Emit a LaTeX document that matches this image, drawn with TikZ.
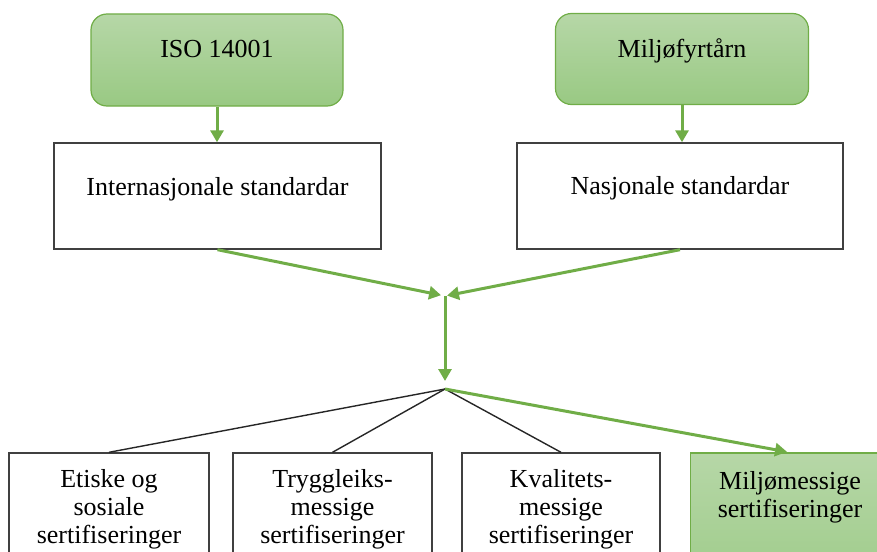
\documentclass[tikz,border=0pt]{standalone}
\usepackage{fontspec}
\setmainfont{Liberation Serif}
\usetikzlibrary{arrows.meta}
\definecolor{certgreen}{HTML}{70AD47}
\definecolor{certlight}{HTML}{B6D7A7}
\definecolor{certdark}{HTML}{99C983}
\tikzset{
	greenbox/.style={draw=certgreen, line width=1.2pt, top color=certlight, bottom color=certdark, inner sep=0pt, align=center},
	plainbox/.style={draw=black!75, line width=1.4pt, fill=white, inner sep=0pt, align=center},
	greenarrow/.style={draw=certgreen, line width=3pt, -{Triangle[length=12pt,width=13pt]}},
	thinline/.style={draw=black!85, line width=1.4pt}
}

\begin{document}
\begin{tikzpicture}[x=1pt, y=-1pt, font=\fontsize{26pt}{28pt}\selectfont]
			%%%%% START %%%%%
			
			\useasboundingbox (0, 0) rectangle (877, 551);
			\clip (0, 0) rectangle (877, 551);
			
			\node[greenbox, rounded corners=16pt, minimum width=252pt, text height=43pt, text depth=49pt] (iso) at (217, 60) {ISO 14001};
			\node[greenbox, rounded corners=16pt, minimum width=253pt, text height=44pt, text depth=47pt] (fyr) at (682, 59) {Miljøfyrtårn};
			
			\node[plainbox, minimum width=327pt, text height=52pt, text depth=54pt] (intl) at (217.5, 196) {Internasjonale standardar};
			\node[plainbox, minimum width=326pt, text height=51pt, text depth=55pt] (nasj) at (680, 196) {Nasjonale standardar};
			
			\draw[greenarrow] (iso.south) -- (iso.south |- intl.north);
			\draw[greenarrow] (fyr.south) -- (fyr.south |- nasj.north);
			
			\coordinate (hub) at (445, 296);
			\coordinate (split) at (445, 389);
			
			\draw[greenarrow, shorten >=4pt] (intl.south) -- (hub);
			\draw[greenarrow, shorten >=2pt] (nasj.south) -- (hub);
			\draw[greenarrow, shorten >=8pt] (hub) -- (split);
			
			% last line sits on the baseline, so the height covers all lines
			\node[plainbox, minimum width=200pt, text height=90pt, text depth=74pt] (etisk) at (109, 535) {Etiske og\\sosiale\\sertifiseringer};
			\node[plainbox, minimum width=199pt, text height=90pt, text depth=74pt] (tryg) at (332.5, 535) {Tryggleiks-\\messige\\sertifiseringer};
			\node[plainbox, minimum width=198pt, text height=90pt, text depth=74pt] (kval) at (561, 535) {Kvalitets-\\messige\\sertifiseringer};
			\node[greenbox, minimum width=199pt, text height=64pt, text depth=100pt] (miljo) at (790, 535) {Miljømessige\\sertifiseringer};
			
			\draw[thinline] (split) -- (etisk.north);
			\draw[thinline] (split) -- (tryg.north);
			\draw[thinline] (split) -- (kval.north);
			\draw[greenarrow, shorten >=3pt] (split) -- (miljo.north);
			
			%%%%% END %%%%%
		\end{tikzpicture}
\end{document}
